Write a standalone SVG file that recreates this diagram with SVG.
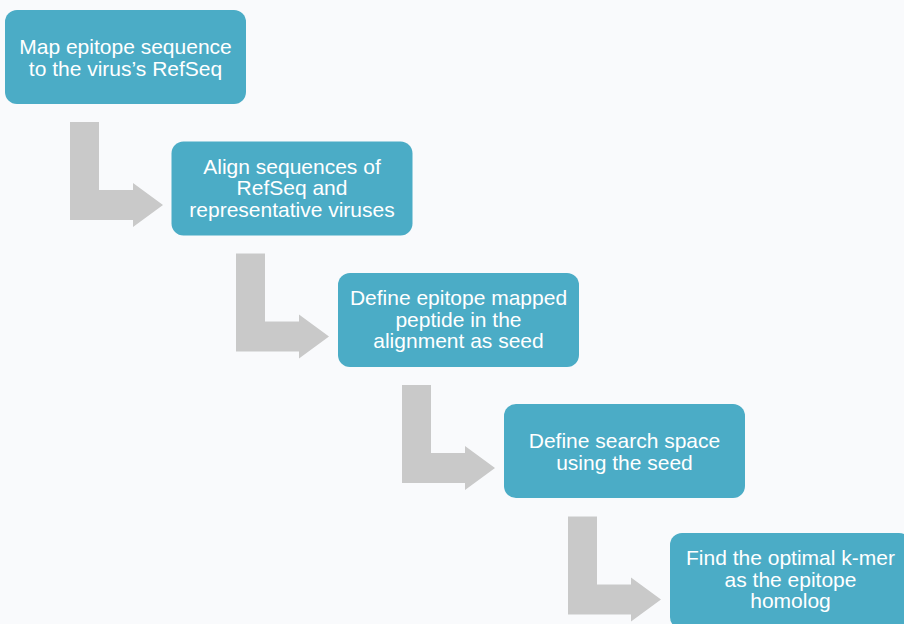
<svg xmlns="http://www.w3.org/2000/svg" xmlns:xlink="http://www.w3.org/1999/xlink" width="904" height="624" viewBox="0 0 904 624">
  <style>
    .box { fill: #4BACC6; }
    .lbl { fill: #FFFFFF; font-family: "Liberation Sans", Arial, sans-serif; font-size: 21px; text-anchor: middle; }
    .arr { fill: #C9C9C9; }
  </style>
  <defs>
    <path id="bent" class="arr" d="M70,122 H99 V190 H133 V183 L163,205 L133,227 V220 H70 Z"/>
  </defs>
  <rect x="0" y="0" width="904" height="624" fill="#F9FAFC"/>
  <g id="connectors">
    <use xlink:href="#bent" href="#bent"/>
    <use xlink:href="#bent" href="#bent" transform="translate(166,131.5)"/>
    <use xlink:href="#bent" href="#bent" transform="translate(332,263)"/>
    <use xlink:href="#bent" href="#bent" transform="translate(498,394.5)"/>
  </g>
  <g id="step1">
    <rect class="box" x="5" y="10" width="241" height="94" rx="12"/>
    <text class="lbl" x="125.5" y="54">Map epitope sequence</text>
    <text class="lbl" x="125.5" y="75.5">to the virus’s RefSeq</text>
  </g>
  <g id="step2">
    <rect class="box" x="171.5" y="141.5" width="241" height="94" rx="12"/>
    <text class="lbl" x="292" y="173.5">Align sequences of</text>
    <text class="lbl" x="292" y="195">RefSeq and</text>
    <text class="lbl" x="292" y="216.5">representative viruses</text>
  </g>
  <g id="step3">
    <rect class="box" x="338" y="273" width="241" height="94" rx="12"/>
    <text class="lbl" x="458.5" y="305">Define epitope mapped</text>
    <text class="lbl" x="458.5" y="326.5">peptide in the</text>
    <text class="lbl" x="458.5" y="348">alignment as seed</text>
  </g>
  <g id="step4">
    <rect class="box" x="504" y="404" width="241" height="94" rx="12"/>
    <text class="lbl" x="624.5" y="448">Define search space</text>
    <text class="lbl" x="624.5" y="469.5">using the seed</text>
  </g>
  <g id="step5">
    <rect class="box" x="670" y="533" width="241" height="96" rx="12"/>
    <text class="lbl" x="790.5" y="565">Find the optimal k-mer</text>
    <text class="lbl" x="790.5" y="586.5">as the epitope</text>
    <text class="lbl" x="790.5" y="608">homolog</text>
  </g>
</svg>
